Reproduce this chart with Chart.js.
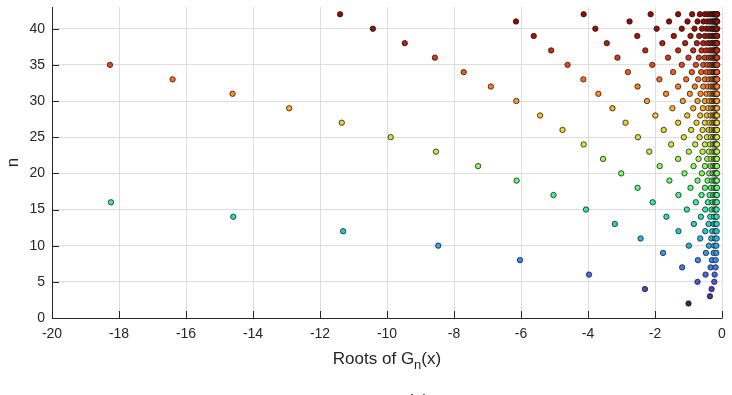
<!DOCTYPE html>
<html>
<head>
<meta charset="utf-8">
<script src="https://cdn.jsdelivr.net/npm/chart.js@4/dist/chart.umd.min.js"></script>
<style>
  html, body { margin: 0; padding: 0; background: #fff; }
  #wrap { width: 732px; height: 395px; }
</style>
</head>
<body>
<div id="wrap"><canvas id="myChart" width="732" height="395"></canvas></div>
<script>
// roots of G_n(x), one array per n (only those inside -20..0)
const r2 = [-1.00]
const r3 = [-0.36]
const r4 = [-2.30, -0.31]
const r5 = [-0.73, -0.23]
const r6 = [-3.97, -0.49, -0.22]
const r7 = [-1.19, -0.34, -0.19]
const r8 = [-6.03, -0.72, -0.30, -0.19]
const r9 = [-1.76, -0.48, -0.25, -0.17]
const r10 = [-8.47, -0.99, -0.39, -0.23, -0.17]
const r11 = [-2.43, -0.65, -0.32, -0.21, -0.16]
const r12 = [-11.31, -1.30, -0.50, -0.29, -0.20, -0.16]
const r13 = [-3.20, -0.84, -0.40, -0.25, -0.19, -0.16]
const r14 = [-14.59, -1.66, -0.63, -0.35, -0.24, -0.18, -0.16]
const r15 = [-4.06, -1.05, -0.50, -0.31, -0.22, -0.18, -0.16]
const r16 = [-18.24, -2.07, -0.78, -0.42, -0.28, -0.21, -0.17, -0.15]
const r17 = [-5.03, -1.30, -0.61, -0.37, -0.26, -0.20, -0.17, -0.15]
const r18 = [-2.52, -0.94, -0.51, -0.33, -0.24, -0.19, -0.17, -0.15]
const r19 = [-6.13, -1.57, -0.73, -0.43, -0.30, -0.23, -0.19, -0.16, -0.15]
const r20 = [-3.01, -1.12, -0.60, -0.38, -0.28, -0.22, -0.18, -0.16, -0.15]
const r21 = [-7.28, -1.86, -0.85, -0.51, -0.34, -0.26, -0.21, -0.18, -0.16, -0.15]
const r22 = [-3.55, -1.31, -0.70, -0.44, -0.32, -0.24, -0.20, -0.17, -0.16, -0.15]
const r23 = [-8.54, -2.17, -0.99, -0.58, -0.39, -0.29, -0.23, -0.19, -0.17, -0.16, -0.15]
const r24 = [-4.13, -1.52, -0.80, -0.51, -0.36, -0.27, -0.22, -0.19, -0.17, -0.16, -0.15]
const r25 = [-9.89, -2.51, -1.14, -0.67, -0.45, -0.33, -0.26, -0.21, -0.19, -0.17, -0.155, -0.149]
const r26 = [-4.76, -1.74, -0.92, -0.58, -0.40, -0.31, -0.25, -0.21, -0.18, -0.17, -0.154, -0.149]
const r27 = [-11.35, -2.88, -1.31, -0.76, -0.51, -0.37, -0.29, -0.24, -0.20, -0.18, -0.16, -0.153, -0.148]
const r28 = [-5.43, -1.99, -1.04, -0.65, -0.45, -0.34, -0.27, -0.23, -0.20, -0.18, -0.16, -0.153, -0.148]
const r29 = [-12.92, -3.27, -1.48, -0.86, -0.57, -0.41, -0.32, -0.26, -0.22, -0.19, -0.17, -0.16, -0.152, -0.148]
const r30 = [-6.14, -2.24, -1.17, -0.73, -0.51, -0.38, -0.30, -0.25, -0.21, -0.19, -0.17, -0.159, -0.152, -0.148]
const r31 = [-14.61, -3.69, -1.67, -0.96, -0.64, -0.46, -0.35, -0.28, -0.24, -0.21, -0.18, -0.17, -0.158, -0.151, -0.148]
const r32 = [-6.90, -2.52, -1.31, -0.81, -0.56, -0.42, -0.33, -0.27, -0.23, -0.20, -0.18, -0.167, -0.157, -0.151, -0.147]
const r33 = [-16.40, -4.14, -1.87, -1.07, -0.71, -0.51, -0.39, -0.31, -0.26, -0.22, -0.20, -0.18, -0.166, -0.156, -0.150, -0.147]
const r34 = [-7.71, -2.81, -1.46, -0.90, -0.62, -0.46, -0.36, -0.29, -0.25, -0.22, -0.19, -0.176, -0.164, -0.155, -0.150, -0.147]
const r35 = [-18.27, -4.61, -2.08, -1.20, -0.78, -0.56, -0.43, -0.34, -0.28, -0.24, -0.21, -0.19, -0.174, -0.163, -0.155, -0.150, -0.147]
const r36 = [-8.57, -3.12, -1.61, -1.00, -0.69, -0.51, -0.39, -0.32, -0.27, -0.23, -0.21, -0.186, -0.172, -0.161, -0.154, -0.149, -0.147]
const r37 = [-5.10, -2.29, -1.31, -0.86, -0.61, -0.47, -0.37, -0.31, -0.26, -0.23, -0.20, -0.183, -0.170, -0.160, -0.154, -0.149, -0.147]
const r38 = [-9.47, -3.44, -1.78, -1.10, -0.75, -0.56, -0.43, -0.35, -0.29, -0.25, -0.22, -0.198, -0.181, -0.168, -0.159, -0.153, -0.149, -0.147]
const r39 = [-5.62, -2.53, -1.44, -0.94, -0.68, -0.51, -0.40, -0.33, -0.28, -0.24, -0.21, -0.194, -0.179, -0.167, -0.159, -0.153, -0.149, -0.147]
const r40 = [-10.42, -3.78, -1.95, -1.20, -0.82, -0.60, -0.47, -0.38, -0.31, -0.27, -0.24, -0.21, -0.191, -0.176, -0.166, -0.158, -0.152, -0.149, -0.147]
const r41 = [-6.15, -2.76, -1.58, -1.03, -0.73, -0.55, -0.44, -0.36, -0.30, -0.26, -0.23, -0.206, -0.188, -0.174, -0.164, -0.157, -0.152, -0.149, -0.147]
const r42 = [-11.40, -4.13, -2.13, -1.31, -0.89, -0.66, -0.51, -0.41, -0.34, -0.29, -0.25, -0.22, -0.20, -0.185, -0.173, -0.163, -0.156, -0.151, -0.148, -0.147]

const nValues = [2,3,4,5,6,7,8,9,10,11,12,13,14,15,16,17,18,19,20,21,22,23,24,25,26,27,28,29,30,31,32,33,34,35,36,37,38,39,40,41,42]
const rootRows = [r2,r3,r4,r5,r6,r7,r8,r9,r10,r11,r12,r13,r14,r15,r16,r17,r18,r19,r20,r21,r22,r23,r24,r25,r26,r27,r28,r29,r30,r31,r32,r33,r34,r35,r36,r37,r38,r39,r40,r41,r42]

const xTicks = [-20,-18,-16,-14,-12,-10,-8,-6,-4,-2,0]
const yTicks = [0,5,10,15,20,25,30,35,40]

// turbo colormap (polynomial fit)
function turbo(t) {
  const r = 0.13572138 + t*(4.61539260 + t*(-42.66032258 + t*(132.13108234 + t*(-152.94239396 + t*59.28637943))))
  const g = 0.09140261 + t*(2.19418839 + t*(4.84296658 + t*(-14.18503333 + t*(4.27729857 + t*2.82956604))))
  const b = 0.10667330 + t*(12.64194608 + t*(-60.58204836 + t*(110.36276771 + t*(-89.90310912 + t*27.34824973))))
  const c = v => Math.round(255 * Math.min(1, Math.max(0, v)))
  return 'rgb(' + c(r) + ',' + c(g) + ',' + c(b) + ')'
}

const datasets = nValues.map((n, i) => ({
  label: 'n=' + n,
  data: rootRows[i].map(x => ({ x: x, y: n })),
  backgroundColor: turbo((n - 1) / 41),
  borderColor: '#1a1a1a',
  borderWidth: 0.8,
  pointRadius: 2.7,
  pointHoverRadius: 2.7
}))

const FONT = '"Liberation Sans", Arial, sans-serif'

const axesPlugin = {
  id: 'axesPlugin',
  afterDraw(chart) {
    const ctx = chart.ctx
    const a = chart.chartArea
    const x = chart.scales.x
    const y = chart.scales.y
    ctx.save()
    ctx.strokeStyle = '#262626'
    ctx.lineWidth = 1
    ctx.beginPath()
    ctx.moveTo(a.left + 0.5, a.top)
    ctx.lineTo(a.left + 0.5, a.bottom + 0.5)
    ctx.lineTo(a.right + 0.5, a.bottom + 0.5)
    xTicks.forEach(v => {
      const px = Math.round(x.getPixelForValue(v)) + 0.5
      ctx.moveTo(px, a.bottom)
      ctx.lineTo(px, a.bottom - 7)
    })
    yTicks.forEach(v => {
      const py = Math.round(y.getPixelForValue(v)) + 0.5
      ctx.moveTo(a.left, py)
      ctx.lineTo(a.left + 7, py)
    })
    ctx.stroke()

    ctx.fillStyle = '#262626'
    // x axis title with subscript
    const big = '17px ' + FONT
    const small = '13px ' + FONT
    ctx.font = big
    const w1 = ctx.measureText('Roots of G').width
    const w3 = ctx.measureText('(x)').width
    ctx.font = small
    const w2 = ctx.measureText('n').width
    let sx = (a.left + a.right) / 2 - (w1 + w2 + w3) / 2
    const base = 364
    ctx.textBaseline = 'alphabetic'
    ctx.textAlign = 'left'
    ctx.font = big
    ctx.fillText('Roots of G', sx, base)
    ctx.font = small
    ctx.fillText('n', sx + w1, base + 5)
    ctx.font = big
    ctx.fillText('(x)', sx + w1 + w2, base)

    // y axis title
    ctx.save()
    ctx.translate(18, (a.top + a.bottom) / 2)
    ctx.rotate(-Math.PI / 2)
    ctx.textAlign = 'center'
    ctx.font = big
    ctx.fillText('n', 0, 0)
    ctx.restore()

    // panel label, cut by the bottom edge
    ctx.textAlign = 'center'
    ctx.textBaseline = 'top'
    ctx.font = big
    ctx.fillText('(a)', 418, 393)
    ctx.restore()
  }
}

new Chart(document.getElementById('myChart'), {
  type: 'scatter',
  data: { datasets: datasets },
  options: {
    responsive: false,
    animation: false,
    events: [],
    devicePixelRatio: 1,
    layout: { padding: { top: 7, right: 10, left: 0, bottom: 0 } },
    plugins: { legend: { display: false }, tooltip: { enabled: false } },
    scales: {
      x: {
        type: 'linear',
        min: -20,
        max: 0,
        afterBuildTicks: s => { s.ticks = xTicks.map(v => ({ value: v })) },
        afterFit: s => { s.height = 77; s.paddingLeft = 0; s.paddingRight = 0 },
        ticks: {
          callback: v => String(v),
          padding: 8,
          color: '#262626',
          font: { size: 14, family: FONT },
          maxRotation: 0,
          autoSkip: false
        },
        grid: { color: '#dedede', drawTicks: false },
        border: { display: false }
      },
      y: {
        type: 'linear',
        min: 0,
        max: 43,
        afterBuildTicks: s => { s.ticks = yTicks.map(v => ({ value: v })) },
        afterFit: s => { s.width = 52; s.paddingTop = 0; s.paddingBottom = 0 },
        ticks: {
          callback: v => String(v),
          padding: 7,
          color: '#262626',
          font: { size: 14, family: FONT }
        },
        grid: { color: '#dedede', drawTicks: false },
        border: { display: false }
      }
    }
  },
  plugins: [axesPlugin]
})
</script>
</body>
</html>
